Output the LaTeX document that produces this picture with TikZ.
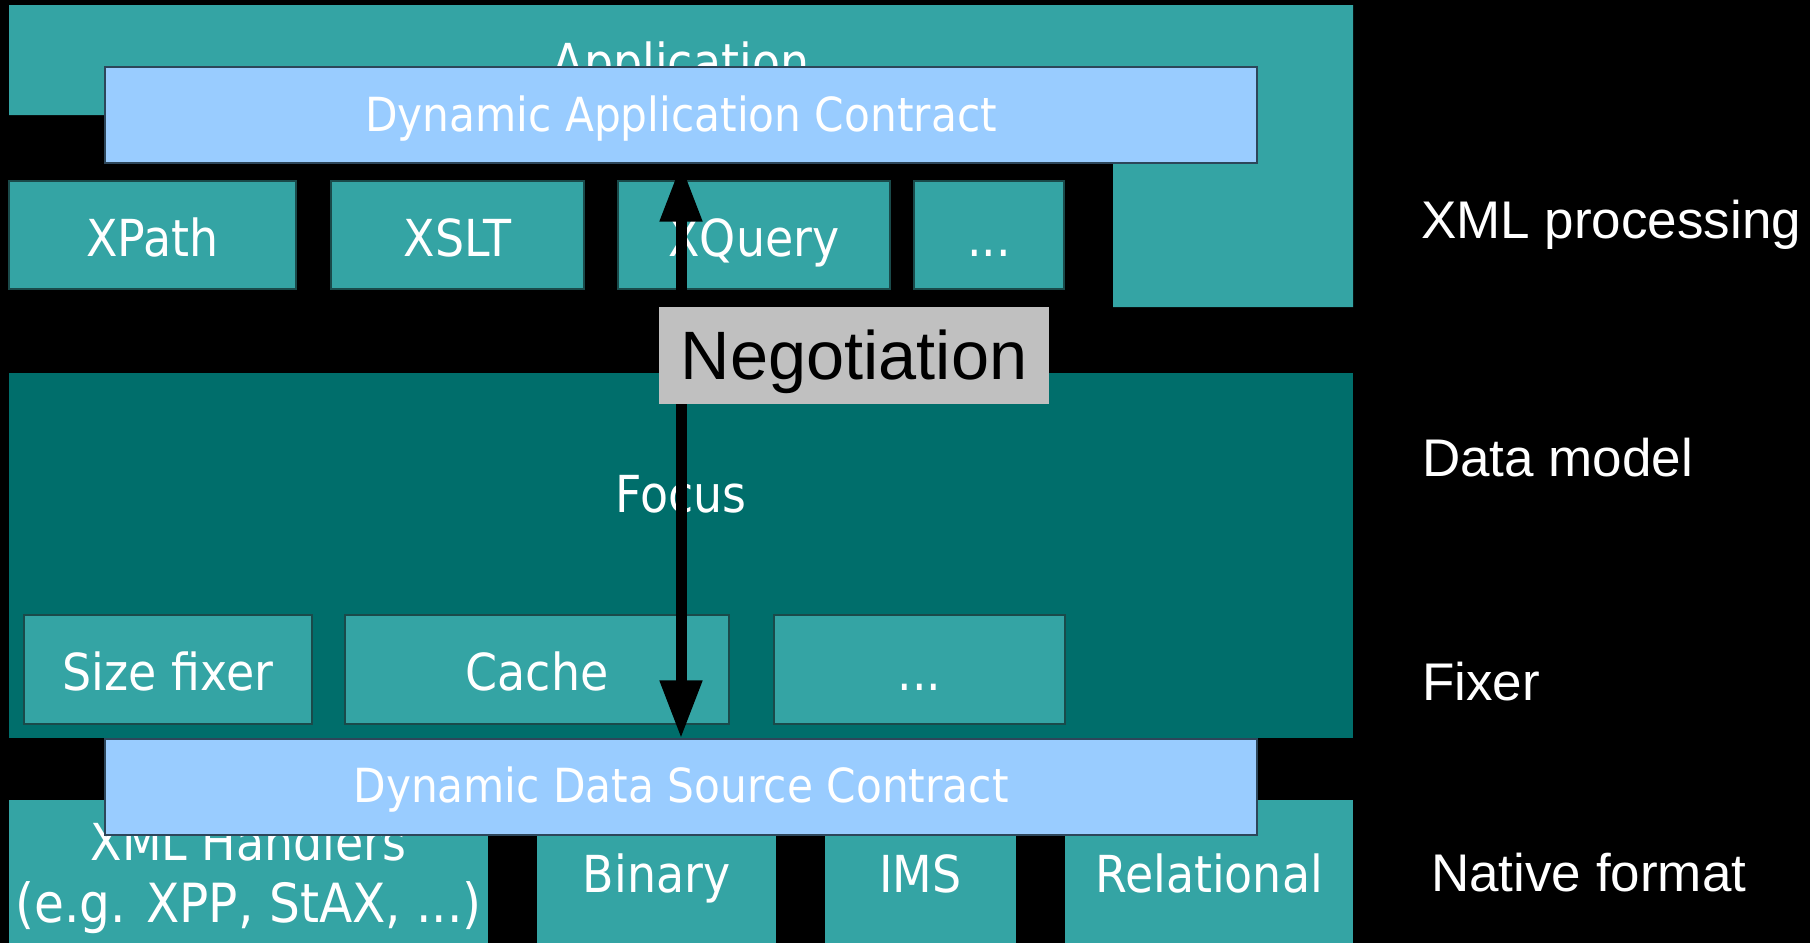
\documentclass[tikz,border=0pt]{standalone}
\usepackage{fontspec}
\usetikzlibrary{arrows.meta}
\newfontfamily\tah[FakeStretch=0.9]{DejaVu Sans}
\newfontfamily\ari{Liberation Sans}
\definecolor{tealbox}{RGB}{52,164,164}
\definecolor{tealdeep}{RGB}{0,110,107}
\definecolor{tealedge}{RGB}{26,74,74}
\definecolor{contractblue}{RGB}{153,204,255}
\definecolor{contractedge}{RGB}{45,70,90}
\definecolor{neggray}{RGB}{192,192,192}
\begin{document}
\begin{tikzpicture}[x=1pt,y=-1pt,
  boxfont/.style={font=\tah\fontsize{51}{61}\selectfont},
  layerbox/.style={boxfont, fill=tealbox, draw=tealedge, line width=1.2pt,
    inner sep=0pt, text=white, text height=41pt, text depth=0pt},
  plainbox/.style={fill=tealbox, draw=none, inner sep=0pt, text=white,
    boxfont, text height=41pt, text depth=0pt},
  contract/.style={fill=contractblue, draw=contractedge, line width=1.2pt,
    inner sep=0pt, text=white, font=\tah\fontsize{47}{56}\selectfont,
    minimum width=1152pt, minimum height=96pt, text depth=0pt},
  boxtext/.style={boxfont, text=white, inner sep=0pt, anchor=base},
  sidelabel/.style={font=\ari\fontsize{53}{64}\selectfont, text=white,
    inner sep=0pt, anchor=base west},
  twoway/.style={line width=11pt,
    {Triangle[length=58pt,width=40pt]}-{Triangle[length=58pt,width=40pt]}}
]
\useasboundingbox (0,0) rectangle (1810,943);
\fill[black] (0,0) rectangle (1810,943);

% Application layer (inverted L)
\fill[tealbox] (9,5) -- (1353,5) -- (1353,307) -- (1113,307) -- (1113,115) -- (9,115) -- cycle;
\node[boxtext] (apptext) at (681,80) {Application};

% XML processing row
\node[layerbox, minimum width=287pt, minimum height=108pt, text height=42pt] (xpath) at (152.5,235) {XPath};
\node[layerbox, minimum width=253pt, minimum height=108pt, text height=42pt] (xslt) at (457.5,235) {XSLT};
\node[layerbox, minimum width=272pt, minimum height=108pt, text height=42pt] (xquery) at (754,235) {XQuery};
\node[layerbox, minimum width=150pt, minimum height=108pt, text height=42pt] (procmore) at (989,235) {...};

% Application contract
\node[contract, text height=33pt] (dac) at (681,115) {Dynamic Application Contract};

% Data model
\node[fill=tealdeep, draw=none, minimum width=1344pt, minimum height=365pt, inner sep=0pt] (focus) at (681,555.5) {};
\node[boxtext] (focustext) at (681,512) {Focus};

% Fixers
\node[layerbox, minimum width=288pt, minimum height=109pt] (sizefixer) at (168,669.5) {Size fixer};
\node[layerbox, minimum width=384pt, minimum height=109pt] (cache) at (537,669.5) {Cache};
\node[layerbox, minimum width=291pt, minimum height=109pt] (fixmore) at (919.5,669.5) {...};

% Native formats
\node[plainbox, minimum width=479pt, minimum height=143pt] (xmlh) at (248.5,871.5) {};
\node[boxtext] (xmlhA) at (248.5,860) {XML Handlers};
\node[boxtext, font=\tah\fontsize{54}{64}\selectfont] (xmlhB) at (248.5,922) {(e.g. XPP, StAX, ...)};
\node[plainbox, minimum width=239pt, minimum height=143pt] (binary) at (656.5,871.5) {Binary};
\node[plainbox, minimum width=191pt, minimum height=143pt] (ims) at (920.5,871.5) {IMS};
\node[plainbox, minimum width=288pt, minimum height=143pt] (relational) at (1209,871.5) {Relational};

% Data source contract
\node[contract, text height=30pt] (ddsc) at (681,787) {Dynamic Data Source Contract};

% Negotiation between the two contracts
\draw[twoway] (dac.south) -- (ddsc.north);
\node[fill=neggray, draw=none, inner sep=0pt, minimum width=390pt, minimum height=97pt,
  font=\ari\fontsize{68.5}{80}\selectfont, text=black, text height=47pt, text depth=0pt]
  (nego) at (854,355.5) {Negotiation};

% Layer names
\node[sidelabel] (lxml) at (1421,238.5) {XML processing};
\node[sidelabel] (ldata) at (1422,476) {Data model};
\node[sidelabel] (lfix) at (1422,700) {Fixer};
\node[sidelabel] (lnative) at (1431,891) {Native format};
\end{tikzpicture}
\end{document}
